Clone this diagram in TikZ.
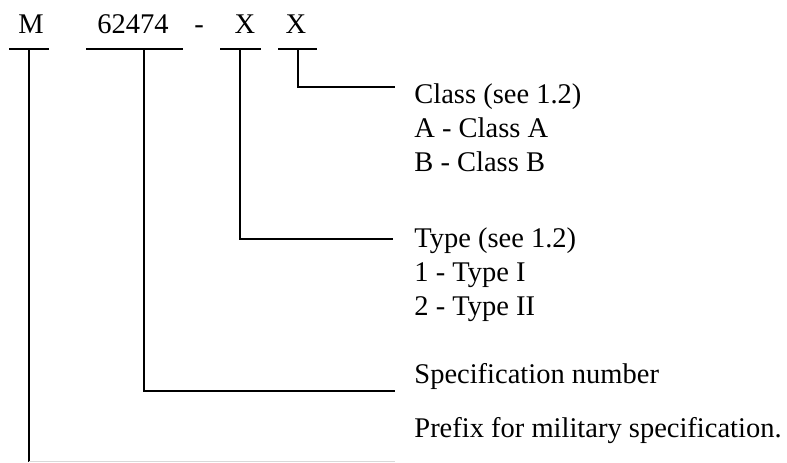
\documentclass[tikz,border=0pt]{standalone}
\usepackage{fontspec}
\setmainfont{Liberation Serif}
\usetikzlibrary{positioning}

\begin{document}
\begin{tikzpicture}[x=0.5pt,y=-0.5pt,
                field/.style = {anchor=base, inner sep=0pt, font=\fontsize{14.25}{17}\selectfont},
                note/.style = {anchor=base west, align=left, inner sep=0pt, font=\fontsize{14.25}{17}\selectfont},
                lead/.style = {line width=1pt}
            ]
            \useasboundingbox (0,0) rectangle (787,462);
            % designation fields
            \node[field] (m) at (31,33) {M};
            \node[field] (num) at (133,33) {62474};
            \node[field] (dash) at (199,33) {-};
            \node[field] (xt) at (245,33) {X};
            \node[field] (xc) at (296,33) {X};
            \draw [lead] (9,49) -- (49,49);
            \draw [lead] (86,49) -- (183,49);
            \draw [lead] (220,49) -- (261,49);
            \draw [lead] (278,49) -- (317,49);
            % explanations (base = last line)
            \node[note] (cls) at (414,171) {Class (see 1.2)\\A - Class A\\B - Class B};
            \node[note] (typ) at (414,315) {Type (see 1.2)\\1 - Type I\\2 - Type II};
            \node[note] (spec) at (414,383) {Specification number};
            \node[note] (pre) at (414,437) {Prefix for military specification.};
            % leaders
            \coordinate (mtop) at (28.7,49);
            \coordinate (numtop) at (144.3,49);
            \coordinate (xttop) at (240,49);
            \coordinate (xctop) at (297.7,49);
            \coordinate (clsend) at (395,87);
            \coordinate (typend) at (393,239);
            \coordinate (specend) at (395,391);
            \coordinate (mbot) at (28.7,462);
            \coordinate (preend) at (395,461.5);
            \draw [lead] (xctop) |- (clsend);
            \draw [lead] (xttop) |- (typend);
            \draw [lead] (numtop) |- (specend);
            \draw [lead] (mtop) -- (mbot);
            \draw [gray!30, line width=0.5pt] (mbot |- preend) -- (preend);
        \end{tikzpicture}
\end{document}
